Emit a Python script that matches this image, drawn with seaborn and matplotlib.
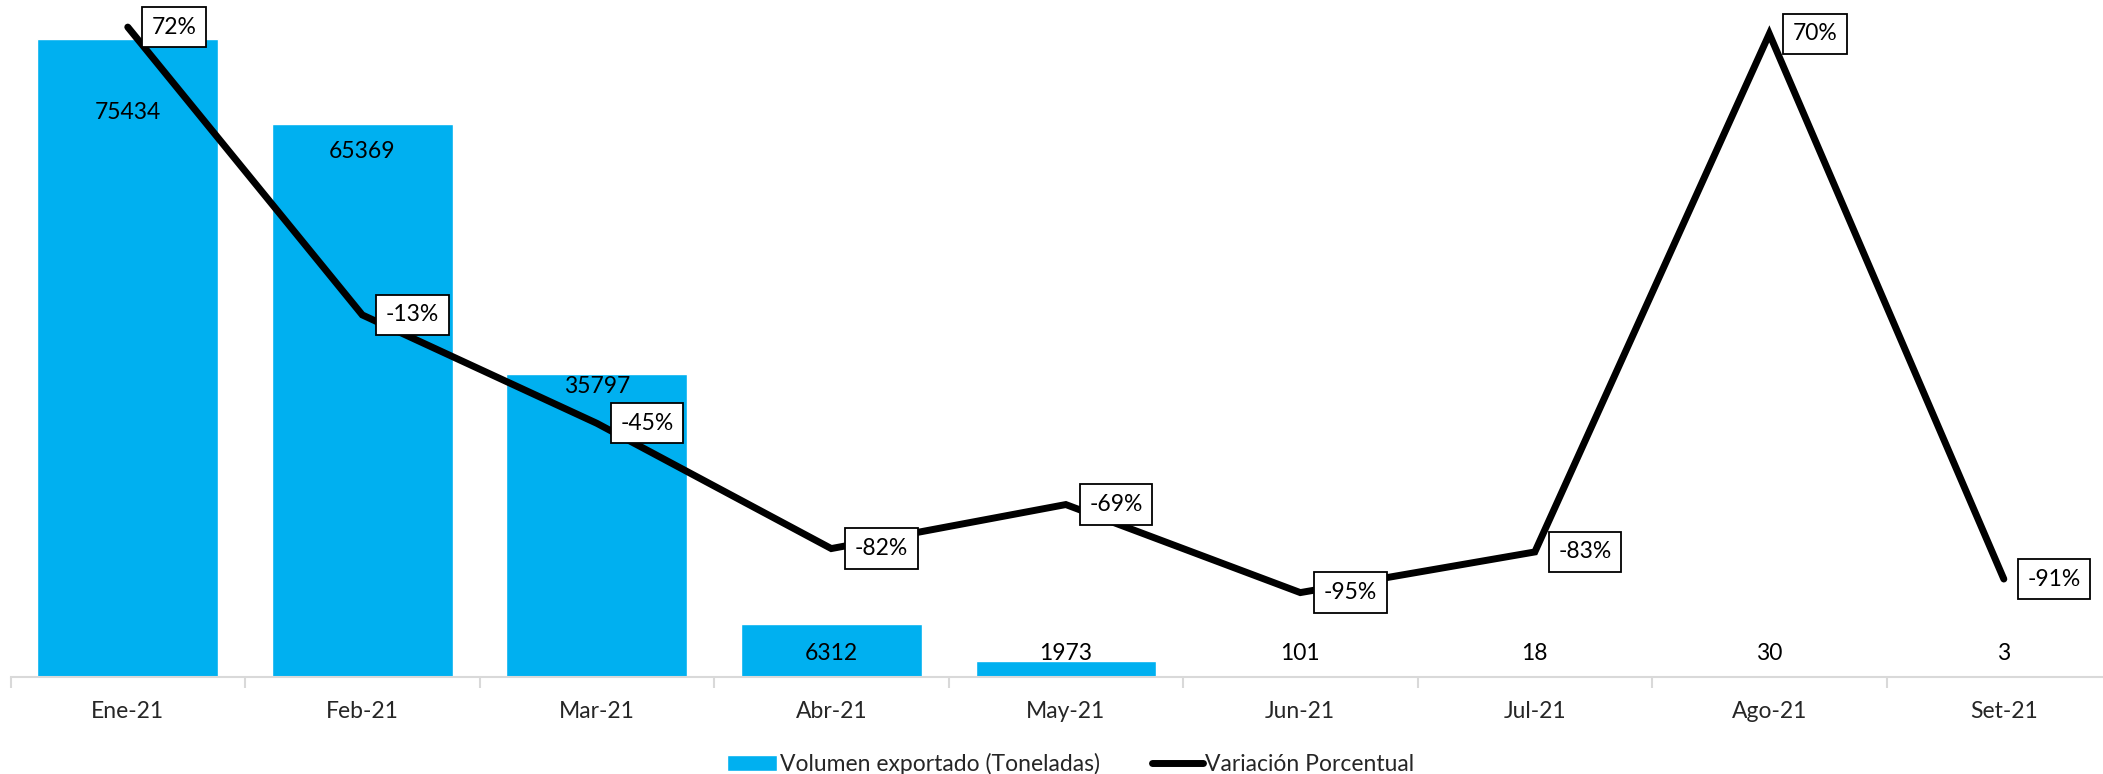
import matplotlib
matplotlib.use("Agg")
import matplotlib.pyplot as plt
import seaborn as sns
import pandas as pd
import numpy as np

# data
months = ["Ene-21", "Feb-21", "Mar-21", "Abr-21", "May-21", "Jun-21", "Jul-21", "Ago-21", "Set-21"]
volumen = [75434, 65369, 35797, 6312, 1973, 101, 18, 30, 3]
variacion = [0.72, -0.13, -0.45, -0.82, -0.69, -0.95, -0.83, 0.70, -0.91]

# where the value labels sit (Excel moved some of them)
label_y = [66700, 62100, 34400, 2800, 2800, 2800, 2800, 2800, 2800]

df = pd.DataFrame({"mes": months, "vol": volumen, "var": variacion, "pos": np.arange(len(months))})

sns.set_theme(style="white")
plt.rcParams["font.family"] = ["Lato", "DejaVu Sans"]
fs = 16.5

fig = plt.figure(figsize=(21.03, 7.74), dpi=100)
ax = fig.add_axes([0.005, 0.125, 1.0036, 0.875])

sns.barplot(data=df, x="mes", y="vol", color="#00B0F0", width=0.77, saturation=1,
            ax=ax, label="Volumen exportado (Toneladas)")
ax.set_ylim(0, 80000)
ax.set_xlim(-0.5, len(months) - 0.5)

for i, (v, y) in enumerate(zip(volumen, label_y)):
    ax.text(i, y, str(v), ha="center", va="center", fontsize=fs, color="black")

# secondary axis for the percentage line
ax2 = ax.twinx()
sns.lineplot(data=df, x="pos", y="var", color="black", linewidth=5, ax=ax2,
             sort=False, label="Variación Porcentual", legend=False)
ax2.lines[0].set_solid_capstyle("round")
ax2.lines[0].set_solid_joinstyle("miter")
ax2.set_ylim(-1.2, 0.8)
ax2.set_xlim(-0.5, len(months) - 0.5)

for i, p in enumerate(variacion):
    ax2.annotate(f"{p:.0%}", (i, p), xytext=(17, 0), textcoords="offset points",
                 ha="left", va="center", fontsize=fs, color="black",
                 bbox=dict(boxstyle="square,pad=0.42", fc="white", ec="black", lw=1.3))

# axes cosmetics
for a in (ax, ax2):
    for s in ("top", "left", "right"):
        a.spines[s].set_visible(False)
    a.set_yticks([])
    a.set_ylabel("")
    a.set_xlabel("")
ax2.spines["bottom"].set_visible(False)
ax2.set_xticks([])
ax.spines["bottom"].set_color("#D9D9D9")
ax.spines["bottom"].set_linewidth(1.5)
ax.set_xticks(range(len(months)))
ax.set_xticklabels(months, fontsize=fs)
ax.tick_params(axis="x", which="major", length=0, pad=17)
ax.set_xticks(np.arange(-0.5, len(months), 1), minor=True)
ax.tick_params(axis="x", which="minor", length=8, width=1.5, color="#D9D9D9", bottom=True)

h1, l1 = ax.get_legend_handles_labels()
h2, l2 = ax2.get_legend_handles_labels()
if ax.get_legend():
    ax.get_legend().remove()
fig.legend(h1 + h2, l1 + l2, loc="lower center", bbox_to_anchor=(0.509, -0.028), ncol=2,
           frameon=False, fontsize=fs, handlelength=2.2, handletextpad=0.1, columnspacing=2.3)

fig.savefig("out.png", dpi=100)
